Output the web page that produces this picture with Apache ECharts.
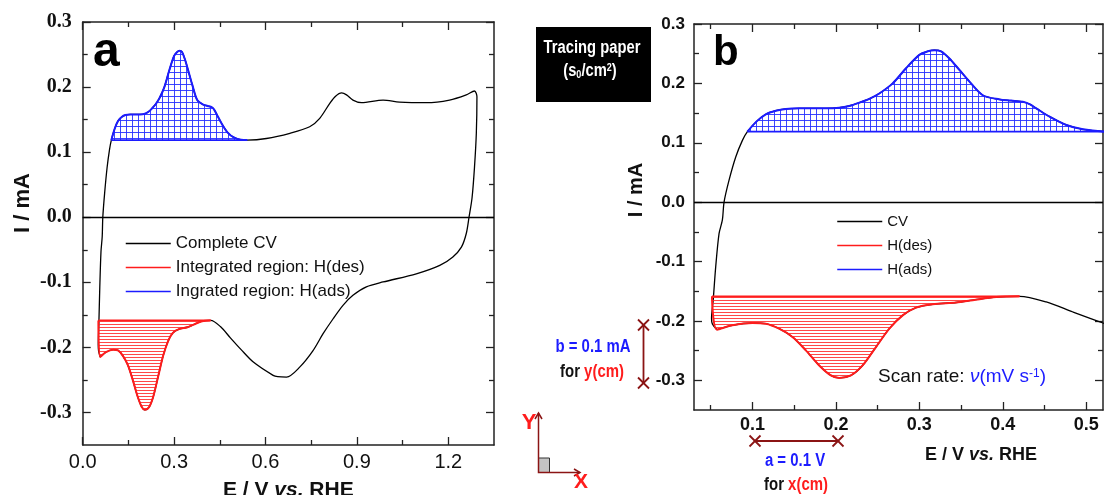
<!DOCTYPE html>
<html>
<head>
<meta charset="utf-8">
<script src="https://cdn.jsdelivr.net/npm/echarts@6/dist/echarts.min.js"></script>
<style>
  html, body { margin: 0; padding: 0; background: #fff; }
  #main { width: 1104px; height: 495px; }
</style>
</head>
<body>
<div id="main"></div>
<script>
// ---- data (E in V vs RHE, I in mA) ----
// steep rise at the cathodic end of the CV
var riseE = [0.0575, 0.052, 0.051, 0.053, 0.056, 0.060, 0.064, 0.066, 0.072, 0.080, 0.088, 0.094];
var riseI = [-0.2147, -0.205, -0.196, -0.165, -0.109, -0.053, -0.030, 0.000, 0.037, 0.076, 0.104, 0.1186];
// H(ads) region (blue), upper branch
var hadsE = [0.094, 0.105, 0.116, 0.128, 0.140, 0.156, 0.172, 0.188, 0.204, 0.216, 0.228, 0.240, 0.252, 0.268, 0.284, 0.300, 0.310, 0.318, 0.326, 0.336, 0.348, 0.360, 0.376, 0.396, 0.410, 0.424, 0.432, 0.440, 0.456, 0.476, 0.496, 0.520, 0.540];
var hadsI = [0.1186, 0.136, 0.148, 0.154, 0.157, 0.158, 0.158, 0.158, 0.159, 0.162, 0.1675, 0.174, 0.183, 0.200, 0.2255, 0.248, 0.254, 0.256, 0.254, 0.242, 0.2226, 0.203, 0.180, 0.173, 0.171, 0.169, 0.165, 0.158, 0.144, 0.130, 0.1226, 0.119, 0.1186];
var hadsBase = 0.1186;
// rest of the upper branch
var tailE = [0.603, 0.680, 0.745, 0.778, 0.811, 0.830, 0.850, 0.866, 0.887, 0.915, 0.986, 1.040, 1.128, 1.204, 1.259, 1.286];
var tailI = [0.121, 0.129, 0.139, 0.152, 0.175, 0.186, 0.191, 0.188, 0.180, 0.176, 0.180, 0.177, 0.176, 0.180, 0.188, 0.194];
// return sweep (lower branch) down to the H(des) region
var backE = [1.294, 1.292, 1.286, 1.278, 1.268, 1.259, 1.243, 1.215, 1.172, 1.095, 0.986, 0.931, 0.887, 0.855, 0.822, 0.789, 0.756, 0.713, 0.669, 0.640, 0.625, 0.560, 0.520, 0.484, 0.452, 0.420];
var backI = [0.185, 0.129, 0.077, 0.030, 0.000, -0.025, -0.046, -0.061, -0.074, -0.087, -0.0995, -0.107, -0.120, -0.135, -0.156, -0.179, -0.205, -0.230, -0.2456, -0.245, -0.243, -0.2226, -0.2035, -0.185, -0.168, -0.1585];
// H(des) region (red), lower branch
var hdesE = [0.0515, 0.0575, 0.076, 0.100, 0.116, 0.132, 0.148, 0.164, 0.180, 0.194, 0.204, 0.218, 0.232, 0.248, 0.264, 0.280, 0.296, 0.316, 0.344, 0.364, 0.392, 0.420];
var hdesI = [-0.1585, -0.2147, -0.2074, -0.2035, -0.2046, -0.213, -0.227, -0.2496, -0.275, -0.2917, -0.296, -0.2917, -0.275, -0.244, -0.213, -0.1906, -0.1776, -0.172, -0.169, -0.165, -0.1597, -0.1585];
var hdesBase = -0.1585;

// ticks
var yMajor = [-0.3, -0.2, -0.1, 0, 0.1, 0.2, 0.3];
var yMinor = [-0.25, -0.15, -0.05, 0.05, 0.15, 0.25];
var xMajorA = [0, 0.3, 0.6, 0.9, 1.2];
var xMinorA = [0.15, 0.45, 0.75, 1.05];
var xMajorB = [0.1, 0.2, 0.3, 0.4, 0.5];
var xMinorB = [0.05, 0.15, 0.25, 0.35, 0.45];

var SANS = "'Liberation Sans', Arial, sans-serif";
var SERIF = "'Liberation Serif', 'Times New Roman', serif";
var BLUE = '#1c1cff', RED = '#ff1c1c', INK = '#8b1414';

function pts(e, i) {
    var out = [];
    for (var k = 0; k < e.length; k++) out.push([e[k], i[k]]);
    return out;
}

var hads = pts(hadsE, hadsI);
var hdes = pts(hdesE, hdesI);
var cvLoop = [].concat(pts(riseE, riseI), hads.slice(1), pts(tailE, tailI), pts(backE, backI),
    hdes.slice(1).reverse());

function hatch(color, w, h, grid) {
    var c = document.createElement('canvas');
    c.width = w; c.height = h;
    var ctx = c.getContext('2d');
    ctx.fillStyle = color;
    ctx.fillRect(0, 0, w, 1);
    if (grid) ctx.fillRect(0, 0, 1, h);
    return c;
}

function fmt(v) { return v.toFixed(1); }

// one value axis per side: main ticks + minor ticks, drawn as a closed frame
function frame(dim, grid, min, max, major, minor, label, extra) {
    var pMain = dim === 'x' ? 'bottom' : 'left';
    var pOpp = dim === 'x' ? 'top' : 'right';
    function ax(pos, ticks, len, showLine, lab) {
        return {
            type: 'value', gridIndex: grid, min: min, max: max, position: pos,
            axisLine: {show: showLine, onZero: false, lineStyle: {color: '#222', width: 1.5}},
            axisTick: {show: true, inside: true, length: len, customValues: ticks,
                lineStyle: {color: '#222', width: 1.3}},
            axisLabel: lab ? Object.assign({customValues: major, formatter: fmt}, lab) : {show: false},
            splitLine: {show: false}
        };
    }
    var main = ax(pMain, major, 8, true, label);
    if (extra) Object.assign(main, extra);
    return [main, ax(pMain, minor, 5, false), ax(pOpp, major, 8, true), ax(pOpp, minor, 5, false)];
}

var xAxes = [].concat(
    frame('x', 0, 0, 1.35, xMajorA, xMinorA,
        {fontFamily: SANS, fontSize: 20, color: '#111', margin: 7},
        {name: 'E / V {i|vs.} RHE', nameLocation: 'middle', nameGap: 35,
            nameTextStyle: {fontFamily: SANS, fontWeight: 'bold', fontSize: 21, color: '#111',
                rich: {i: {fontFamily: SANS, fontWeight: 'bold', fontStyle: 'italic', fontSize: 21, color: '#111'}}}}),
    frame('x', 1, 0.03, 0.52, xMajorB, xMinorB,
        {fontFamily: SANS, fontWeight: 'bold', fontSize: 18, color: '#111', margin: 6})
);
var yAxes = [].concat(
    frame('y', 0, -0.35, 0.3, yMajor, yMinor,
        {fontFamily: SERIF, fontWeight: 'bold', fontSize: 20, color: '#111', margin: 11}),
    frame('y', 1, -0.35, 0.3, yMajor, yMinor,
        {fontFamily: SANS, fontWeight: 'bold', fontSize: 17, color: '#111', margin: 9})
);

function panelSeries(g, names) {
    var xi = g * 4, yi = g * 4;
    return [
        {name: names[0], type: 'line', xAxisIndex: xi, yAxisIndex: yi, data: cvLoop, symbol: 'none',
            smooth: 0.3, lineStyle: {color: '#000', width: 1.3}, itemStyle: {color: '#000'}, z: 2,
            markLine: {silent: true, symbol: ['none', 'none'], label: {show: false},
                lineStyle: {color: '#000', width: 1.3, type: 'solid'}, data: [{yAxis: 0}]}},
        {name: names[1], type: 'line', xAxisIndex: xi, yAxisIndex: yi, data: hdes, symbol: 'none',
            smooth: 0.3, lineStyle: {color: RED, width: 2}, itemStyle: {color: RED}, z: 3,
            areaStyle: {origin: hdesBase, opacity: 1,
                color: {image: hatch('rgba(255,40,40,0.85)', 4, 3, false), repeat: 'repeat'}}},
        {name: names[2], type: 'line', xAxisIndex: xi, yAxisIndex: yi, data: hads, symbol: 'none',
            smooth: 0.3, lineStyle: {color: BLUE, width: 2}, itemStyle: {color: BLUE}, z: 3,
            areaStyle: {origin: hadsBase, opacity: 1,
                color: {image: hatch('rgba(40,50,255,0.9)', 6, 6, true), repeat: 'repeat'}}},
        {type: 'line', xAxisIndex: xi, yAxisIndex: yi, symbol: 'none', z: 3,
            data: [[hdesE[0], hdesBase], [hdesE[hdesE.length - 1], hdesBase]],
            lineStyle: {color: RED, width: 1.8}},
        {type: 'line', xAxisIndex: xi, yAxisIndex: yi, symbol: 'none', z: 3,
            data: [[hadsE[0], hadsBase], [hadsE[hadsE.length - 1], hadsBase]],
            lineStyle: {color: BLUE, width: 1.8}}
    ];
}

var namesA = ['Complete CV', 'Integrated region: H(des)', 'Ingrated region: H(ads)'];
var namesB = ['CV', 'H(des)', 'H(ads)'];

function cross(x, y) {
    return [
        {type: 'line', shape: {x1: x - 5.5, y1: y - 5.5, x2: x + 5.5, y2: y + 5.5}, style: {stroke: INK, lineWidth: 1.8}},
        {type: 'line', shape: {x1: x - 5.5, y1: y + 5.5, x2: x + 5.5, y2: y - 5.5}, style: {stroke: INK, lineWidth: 1.8}}
    ];
}

function txt(x, y, text, font, extra) {
    var el = {type: 'text', x: x, y: y,
        style: Object.assign({text: text, align: 'center', verticalAlign: 'middle', fill: '#111'}, font)};
    if (extra) Object.assign(el, extra);
    return el;
}

var graphics = [].concat(
    [
        txt(93, 53, 'a', {font: 'bold 48px ' + SANS, align: 'left', fill: '#000'}),
        txt(713, 53, 'b', {font: 'bold 42px ' + SANS, align: 'left', fill: '#000'}),
        txt(23, 203, 'I / mA', {font: 'bold 22px ' + SANS}, {rotation: Math.PI / 2}),
        txt(636, 190, 'I / mA', {font: 'bold 20px ' + SANS}, {rotation: Math.PI / 2}),
        txt(981, 455, 'E / V {i|vs.} RHE', {font: 'bold 18px ' + SANS,
            rich: {i: {fontFamily: SANS, fontWeight: 'bold', fontStyle: 'italic', fontSize: 18, fill: '#111'}}}),
        {type: 'rect', shape: {x: 536, y: 27, width: 115, height: 75}, style: {fill: '#000'}},
        txt(592, 48, 'Tracing paper', {font: 'bold 18px ' + SANS, fill: '#fff'}, {scaleX: 0.82}),
        txt(590, 71, '{t|(s}{sub|0}{t|/cm}{sup|2}{t|)}', {fill: '#fff',
            rich: {t: {fontFamily: SANS, fontWeight: 'bold', fontSize: 18, fill: '#fff'},
                sub: {fontFamily: SANS, fontWeight: 'bold', fontSize: 11, fill: '#fff', verticalAlign: 'bottom'},
                sup: {fontFamily: SANS, fontWeight: 'bold', fontSize: 11, fill: '#fff', verticalAlign: 'top'}}},
            {scaleX: 0.82}),
        txt(593, 347, 'b = 0.1 mA', {font: 'bold 18px ' + SANS, fill: BLUE}, {scaleX: 0.83}),
        txt(592, 372, '{k|for }{r|y(cm)}', {rich: {
                k: {fontFamily: SANS, fontWeight: 'bold', fontSize: 18, fill: '#111'},
                r: {fontFamily: SANS, fontWeight: 'bold', fontSize: 18, fill: RED}}}, {scaleX: 0.83}),
        txt(795, 461, 'a = 0.1 V', {font: 'bold 18px ' + SANS, fill: BLUE}, {scaleX: 0.83}),
        txt(796, 485, '{k|for }{r|x(cm)}', {rich: {
                k: {fontFamily: SANS, fontWeight: 'bold', fontSize: 18, fill: '#111'},
                r: {fontFamily: SANS, fontWeight: 'bold', fontSize: 18, fill: RED}}}, {scaleX: 0.83}),
        txt(878, 377, '{a|Scan rate: }{v|ν}{b|(mV s}{s|-1}{b|)}', {align: 'left', rich: {
                a: {fontFamily: SANS, fontSize: 19, fill: '#111'},
                v: {fontFamily: SANS, fontStyle: 'italic', fontSize: 19, fill: BLUE},
                b: {fontFamily: SANS, fontSize: 19, fill: BLUE},
                s: {fontFamily: SANS, fontSize: 12, fill: BLUE, verticalAlign: 'top'}}}),
        // scale bars
        {type: 'line', shape: {x1: 643.5, y1: 325, x2: 643.5, y2: 383}, style: {stroke: INK, lineWidth: 1.8}},
        {type: 'line', shape: {x1: 755, y1: 441, x2: 838, y2: 441}, style: {stroke: INK, lineWidth: 1.8}},
        // X / Y sketch
        {type: 'rect', shape: {x: 538.5, y: 458, width: 11, height: 14.5}, style: {fill: '#c4c4c4', stroke: '#333', lineWidth: 1}},
        {type: 'polyline', shape: {points: [[538.5, 413], [538.5, 472.5], [580, 472.5]]}, style: {stroke: INK, lineWidth: 1.5, fill: null}},
        {type: 'polyline', shape: {points: [[535, 419], [538.5, 413], [542, 419]]}, style: {stroke: INK, lineWidth: 1.5, fill: null}},
        {type: 'polyline', shape: {points: [[574, 469], [580, 472.5], [574, 476]]}, style: {stroke: INK, lineWidth: 1.5, fill: null}},
        txt(529, 423, 'Y', {font: 'bold 22px ' + SANS, fill: RED}),
        txt(581, 482, 'X', {font: 'bold 21px ' + SANS, fill: RED})
    ],
    cross(643.5, 325), cross(643.5, 383), cross(755, 441), cross(838, 441)
);

var legendBase = {orient: 'vertical', itemWidth: 45, itemHeight: 14, itemGap: 9, padding: 0,
    selectedMode: false, itemStyle: {opacity: 0}, lineStyle: {width: 1.5},
    textStyle: {fontFamily: SANS, fontSize: 15, color: '#111'}};

var option = {
    animation: false,
    backgroundColor: '#fff',
    grid: [
        {left: 82.7, top: 22, width: 411.3, height: 423, containLabel: false, outerBoundsMode: 'none'},
        {left: 694, top: 24, width: 409, height: 386, containLabel: false, outerBoundsMode: 'none'}
    ],
    legend: [
        Object.assign({}, legendBase, {left: 125, top: 235, itemGap: 7, data: namesA,
            textStyle: {fontFamily: SANS, fontSize: 17, color: '#111'}}),
        Object.assign({}, legendBase, {left: 836.5, top: 214, data: namesB})
    ],
    xAxis: xAxes,
    yAxis: yAxes,
    series: [].concat(panelSeries(0, namesA), panelSeries(1, namesB)),
    graphic: {elements: graphics}
};

var myChart = echarts.init(document.getElementById('main'), null, {renderer: 'canvas'});
myChart.setOption(option);
</script>
</body>
</html>
